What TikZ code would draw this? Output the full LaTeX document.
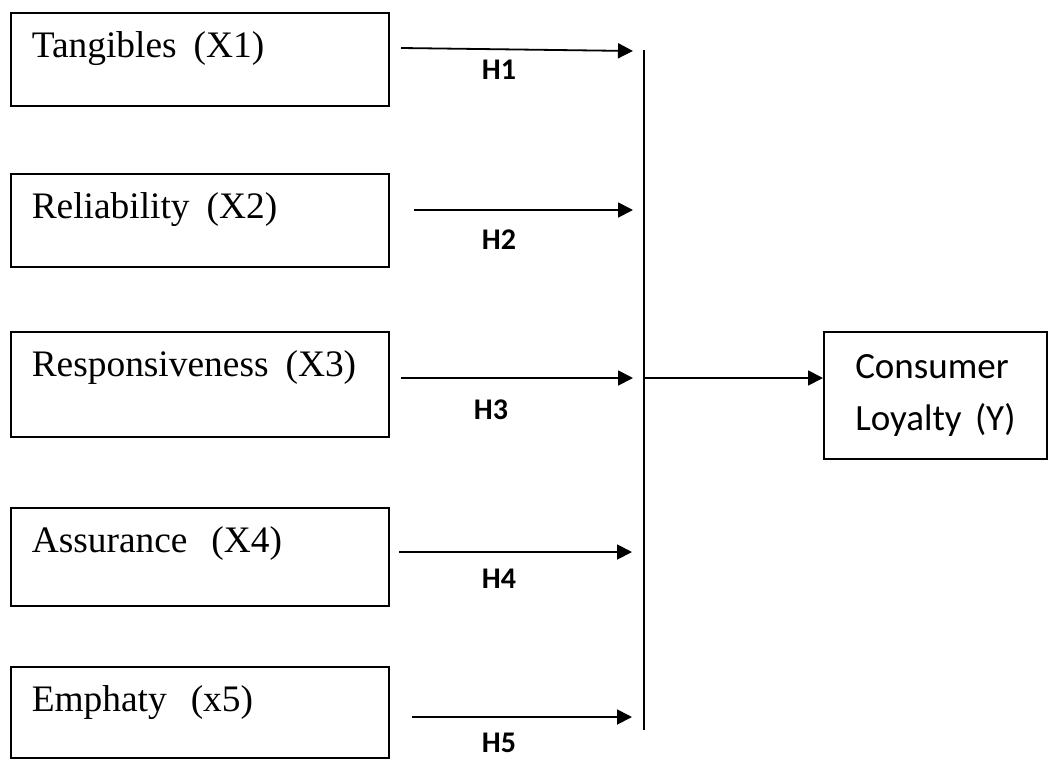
\documentclass[tikz,border=0pt]{standalone}
\usepackage{fontspec}
\setmainfont{Liberation Serif}
\newfontfamily\calibri{Carlito}
\usetikzlibrary{arrows.meta}

\tikzset{
  factor/.style={draw, line width=0.75pt, anchor=north west, inner xsep=10.5pt, inner ysep=0pt,
    text width=168pt, align=left, text height=22.5pt, text depth=#1,
    font=\fontsize{18.7}{22}\selectfont},
  hyp/.style={font=\calibri\bfseries\fontsize{15}{18}\selectfont, inner sep=0pt},
}

\begin{document}
\begin{tikzpicture}[x=0.5pt, y=-0.5pt, >={Triangle[length=7.5pt,width=7.5pt]}, line width=0.9pt]
\useasboundingbox (0,0) rectangle (1048,760);

\node[factor=24pt] (x1) at (10,12) {Tangibles\nobreak\hspace{8.5pt}(X1)};
\node[factor=24pt] (x2) at (10,173) {Reliability\nobreak\hspace{8.5pt}(X2)};
\node[factor=30pt] (x3) at (10,331) {Responsiveness\nobreak\hspace{8.5pt}(X3)};
\node[factor=26.5pt] (x4) at (10,507) {Assurance\nobreak\hspace{12pt}(X4)};
\node[factor=23pt] (x5) at (10,666) {Emphaty\nobreak\hspace{12pt}(x5)};

\node[draw, line width=0.75pt, anchor=north west, minimum width=111.5pt, minimum height=63.5pt,
  inner xsep=15.75pt, text width=80pt, align=left,
  font=\calibri\fontsize{18.5}{26}\selectfont] (y) at (823,331) {Consumer\\Loyalty\nobreak\hspace{6.7pt}(Y)};

% arrow ends and the collecting bar
\coordinate (s1) at (401,48);  \coordinate (t1) at (633,51);
\coordinate (s2) at (414,210); \coordinate (t2) at (633,210);
\coordinate (s3) at (401,378); \coordinate (t3) at (633,378);
\coordinate (s4) at (399,552); \coordinate (t4) at (632,552);
\coordinate (s5) at (412,717); \coordinate (t5) at (632,717);
\coordinate (bartop) at (644,50);
\coordinate (barmid) at (644,378);
\coordinate (barbot) at (644,730);

\draw[->] (s1) -- (t1);
\draw[->] (s2) -- (t2);
\draw[->] (s3) -- (t3);
\draw[->] (s4) -- (t4);
\draw[->] (s5) -- (t5);

\node[hyp] (h1) at (499,70) {H1};
\node[hyp] (h2) at (499,240) {H2};
\node[hyp] (h3) at (491,410) {H3};
\node[hyp] (h4) at (499,579) {H4};
\node[hyp] (h5) at (499,743) {H5};

\draw (bartop) -- (barbot);
\draw[->] (barmid) -- (barmid -| y.west);
\end{tikzpicture}
\end{document}
